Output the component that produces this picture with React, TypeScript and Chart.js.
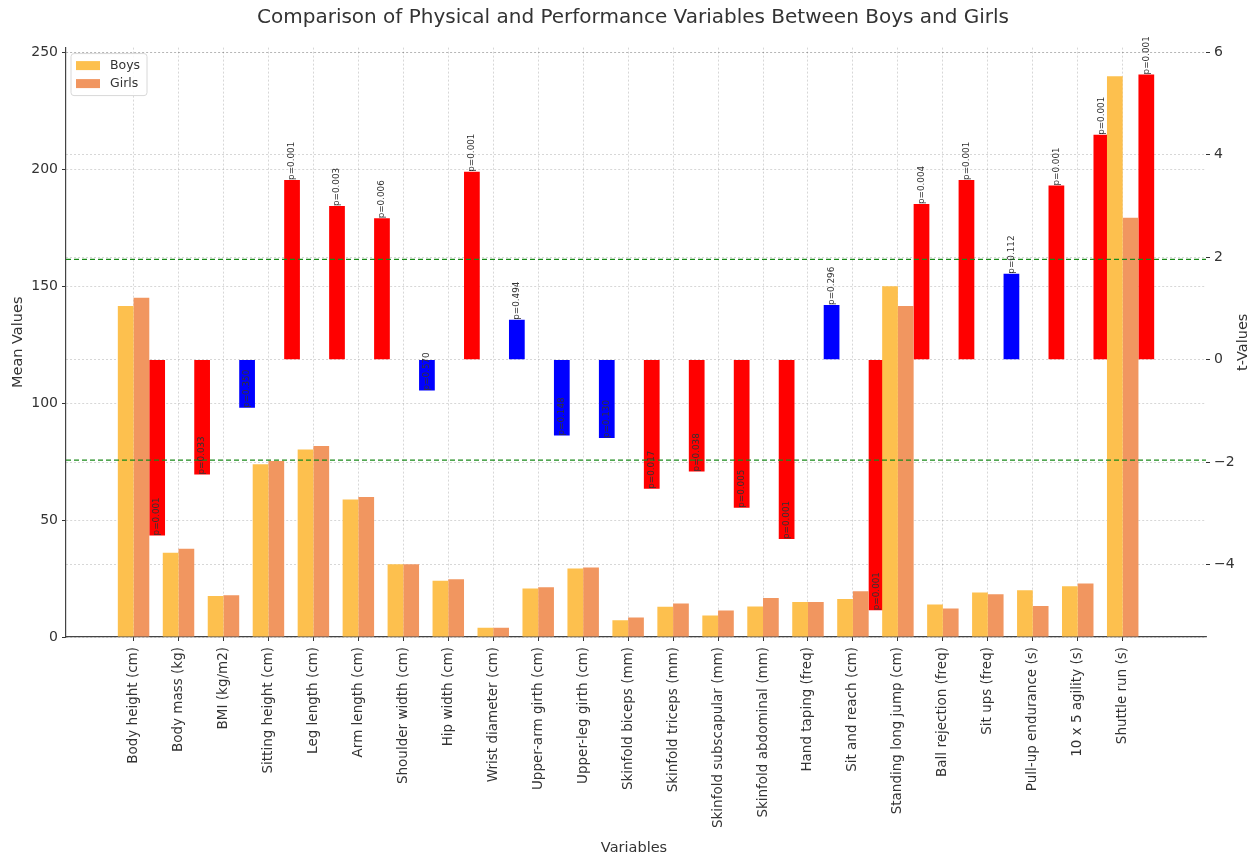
import React, { useEffect, useRef } from 'react';
import { Chart, registerables } from 'chart.js';

Chart.register(...registerables);

const categories = [
  'Body height (cm)', 'Body mass (kg)', 'BMI (kg/m2)', 'Sitting height (cm)', 'Leg length (cm)',
  'Arm length (cm)', 'Shoulder width (cm)', 'Hip width (cm)', 'Wrist diameter (cm)', 'Upper-arm girth (cm)',
  'Upper-leg girth (cm)', 'Skinfold biceps (mm)', 'Skinfold triceps (mm)', 'Skinfold subscapular (mm)',
  'Skinfold abdominal (mm)', 'Hand taping (freq)', 'Sit and reach (cm)', 'Standing long jump (cm)',
  'Ball rejection (freq)', 'Sit ups (freq)', 'Pull-up endurance (s)', '10 x 5 agility (s)', 'Shuttle run (s)',
];

const boysMeans = [141.5, 36.0, 17.5, 73.9, 80.2, 58.8, 31.1, 24.0, 4.0, 20.7, 29.3, 7.2, 12.9, 9.2, 13.0, 15.0, 16.3, 150.0, 13.9, 19.0, 20.0, 21.7, 239.8];
const girlsMeans = [145.0, 37.7, 17.9, 75.3, 81.7, 59.9, 31.1, 24.7, 4.0, 21.3, 29.7, 8.3, 14.3, 11.3, 16.7, 15.0, 19.6, 141.5, 12.2, 18.3, 13.3, 22.9, 179.3];
const tValues = [-3.43, -2.24, -0.94, 3.51, 3.0, 2.76, -0.6, 3.67, 0.78, -1.48, -1.53, -2.52, -2.18, -2.89, -3.5, 1.07, -4.89, 3.04, 3.51, 1.68, 3.4, 4.39, 5.57];
const pValues = ['0.001', '0.033', '0.350', '0.001', '0.003', '0.006', '0.570', '0.001', '0.494', '0.148', '0.130', '0.017', '0.038', '0.005', '0.001', '0.296', '0.001', '0.004', '0.001', '0.112', '0.001', '0.001', '0.001'];

const meanTicks = [0, 50, 100, 150, 200, 250];
const tTicks = [-4, -2, 0, 2, 4, 6];
const SIG_LEVEL = 0.05;
const T_CRIT = 1.96;
const BAR_W = 0.35;

const BOYS_COLOR = 'rgb(253,192,78)';
const GIRLS_COLOR = 'rgb(241,150,96)';
const SIG_COLOR = '#ff0000';
const NONSIG_COLOR = '#0000ff';
const FONT = "'DejaVu Sans', sans-serif";
const TEXT = '#333333';

export default function App() {
  const ref = useRef<HTMLCanvasElement>(null);

  useEffect(() => {
    document.body.style.margin = '0';
    const canvas = ref.current as HTMLCanvasElement;

    const overlay = {
      id: 'overlay',
      afterDatasetsDraw(chart: any) {
        const { ctx, chartArea, scales } = chart;
        const y2 = scales.y2;
        ctx.save();
        ctx.strokeStyle = '#1a8a1a';
        ctx.lineWidth = 1.3;
        ctx.setLineDash([5, 3]);
        [T_CRIT, -T_CRIT].forEach((v) => {
          const py = y2.getPixelForValue(v);
          ctx.beginPath();
          ctx.moveTo(chartArea.left, py);
          ctx.lineTo(chartArea.right, py);
          ctx.stroke();
        });
        ctx.restore();

        const meta = chart.getDatasetMeta(2);
        ctx.save();
        ctx.fillStyle = TEXT;
        ctx.font = `8.8px ${FONT}`;
        ctx.textAlign = 'left';
        ctx.textBaseline = 'middle';
        meta.data.forEach((el: any, i: number) => {
          ctx.save();
          ctx.translate(el.x, el.y);
          ctx.rotate(-Math.PI / 2);
          ctx.fillText(`p=${pValues[i]}`, 0, 0);
          ctx.restore();
        });
        ctx.restore();

        const lx = chartArea.left + 5;
        const ly = chartArea.top + 6;
        ctx.save();
        ctx.fillStyle = 'rgba(255,255,255,0.85)';
        ctx.strokeStyle = '#d8d8d8';
        ctx.lineWidth = 1;
        ctx.beginPath();
        ctx.roundRect(lx, ly, 76, 42, 3);
        ctx.fill();
        ctx.stroke();
        const items = [
          { label: 'Boys', color: BOYS_COLOR },
          { label: 'Girls', color: GIRLS_COLOR },
        ];
        ctx.font = `12.5px ${FONT}`;
        ctx.textBaseline = 'middle';
        ctx.textAlign = 'left';
        items.forEach((it, k) => {
          const cy = ly + 12 + k * 18;
          ctx.fillStyle = it.color;
          ctx.fillRect(lx + 5, cy - 4.5, 24, 9);
          ctx.fillStyle = TEXT;
          ctx.fillText(it.label, lx + 39, cy);
        });
        ctx.restore();
      },
      afterDraw(chart: any) {
        const { ctx, chartArea } = chart;
        const cx = (chartArea.left + chartArea.right) / 2;
        const cy = (chartArea.top + chartArea.bottom) / 2;
        ctx.save();
        ctx.fillStyle = TEXT;
        ctx.textAlign = 'center';
        ctx.textBaseline = 'middle';
        ctx.font = `20px ${FONT}`;
        ctx.fillText('Comparison of Physical and Performance Variables Between Boys and Girls', cx - 3, 18);
        ctx.font = `14.5px ${FONT}`;
        ctx.fillText('Variables', cx - 2, 848);
        ctx.save();
        ctx.translate(18, cy);
        ctx.rotate(-Math.PI / 2);
        ctx.fillText('Mean Values', 0, 0);
        ctx.restore();
        ctx.save();
        ctx.translate(1243, cy);
        ctx.rotate(-Math.PI / 2);
        ctx.fillText('t-Values', 0, 0);
        ctx.restore();
        ctx.restore();
      },
    };

    const barPct = BAR_W / (1 - 2 * BAR_W);
    const common = { grouped: false, barPercentage: barPct, categoryPercentage: 1, borderWidth: 0 };
    const gridColor = 'rgba(0,0,0,0.2)';

    const chart = new Chart(canvas, {
      type: 'bar',
      data: {
        datasets: [
          {
            label: 'Boys',
            data: categories.map((_, i) => ({ x: i - BAR_W / 2, y: boysMeans[i] })),
            backgroundColor: BOYS_COLOR,
            yAxisID: 'y',
            ...common,
          } as any,
          {
            label: 'Girls',
            data: categories.map((_, i) => ({ x: i + BAR_W / 2, y: girlsMeans[i] })),
            backgroundColor: GIRLS_COLOR,
            yAxisID: 'y',
            ...common,
          } as any,
          {
            label: 't-Values',
            data: categories.map((_, i) => ({ x: i + 1.5 * BAR_W, y: tValues[i] })),
            backgroundColor: pValues.map((p) => (parseFloat(p) < SIG_LEVEL ? SIG_COLOR : NONSIG_COLOR)),
            yAxisID: 'y2',
            ...common,
          } as any,
        ],
      },
      options: {
        animation: false,
        responsive: false,
        events: [],
        layout: { padding: { top: 47.6, left: 0, right: 0, bottom: 0 } },
        plugins: { legend: { display: false }, tooltip: { enabled: false }, title: { display: false } },
        scales: {
          x: {
            type: 'linear',
            offset: false,
            min: -1.5025,
            max: 23.8525,
            afterBuildTicks: (s: any) => {
              s.ticks = categories.map((_, i) => ({ value: i }));
            },
            afterFit: (s: any) => {
              s.height = 857 - 637;
            },
            grid: { color: gridColor, lineWidth: 0.8, offset: false, tickLength: 4, tickColor: TEXT, tickWidth: 1 },
            border: { display: true, color: '#444', width: 1.2, dash: [2, 2] },
            ticks: {
              autoSkip: false,
              minRotation: 90,
              maxRotation: 90,
              padding: 6,
              color: TEXT,
              font: { family: FONT, size: 13.5 },
              callback: (v: any) => categories[Math.round(Number(v))] ?? '',
            },
          } as any,
          y: {
            type: 'linear',
            position: 'left',
            min: 0,
            max: 252,
            afterBuildTicks: (s: any) => {
              s.ticks = meanTicks.map((v) => ({ value: v }));
            },
            afterFit: (s: any) => {
              s.width = 66;
            },
            grid: { color: gridColor, lineWidth: 0.8, tickLength: 4, tickColor: TEXT, tickWidth: 1 },
            border: { display: true, color: '#444', width: 1.2, dash: [2, 2] },
            ticks: { color: TEXT, padding: 4, font: { family: FONT, size: 14 } },
          } as any,
          y2: {
            type: 'linear',
            position: 'right',
            min: -5.413,
            max: 6.093,
            afterBuildTicks: (s: any) => {
              s.ticks = tTicks.map((v) => ({ value: v }));
            },
            afterFit: (s: any) => {
              s.width = 52;
            },
            grid: { color: gridColor, lineWidth: 0.8, tickLength: 4, tickColor: TEXT, tickWidth: 1 },
            border: { display: false, dash: [2, 2] },
            ticks: {
              color: TEXT,
              padding: 4,
              font: { family: FONT, size: 14 },
              callback: (v: any) => (Number(v) < 0 ? '\u2212' + Math.abs(Number(v)) : String(v)),
            },
          } as any,
        },
      },
      plugins: [overlay],
    });

    return () => chart.destroy();
  }, []);

  return (
    <div style={{ width: 1258, height: 857, background: '#fff' }}>
      <canvas ref={ref} width={1258} height={857} style={{ display: 'block' }} />
    </div>
  );
}
